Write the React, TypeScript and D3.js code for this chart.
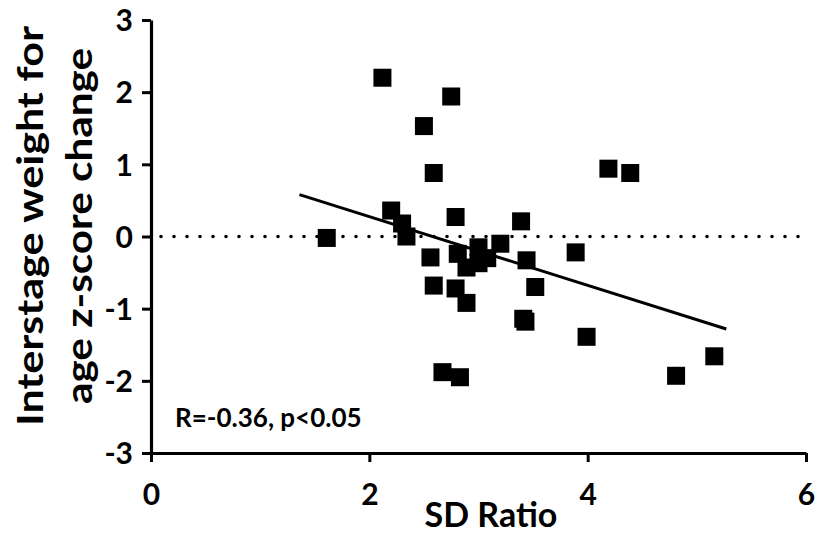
import React, { useEffect, useRef } from 'react';
import * as d3 from 'd3';

// SD ratio (x) vs interstage weight-for-age z-score change (y)
const sdRatio = [
  1.61, 2.12, 2.20, 2.30, 2.34, 2.50, 2.59, 2.56, 2.59, 2.67, 2.75,
  2.79, 2.79, 2.81, 2.83, 2.89, 2.89, 3.00, 3.00, 3.08, 3.20, 3.39,
  3.44, 3.52, 3.41, 3.43, 3.89, 3.99, 4.19, 4.39, 4.81, 5.16
];
const zChange = [
  -0.02, 2.20, 0.36, 0.18, 0.00, 1.53, 0.88, -0.29, -0.68, -1.88, 1.94,
  0.27, -0.72, -0.24, -1.95, -0.43, -0.92, -0.15, -0.37, -0.30, -0.10, 0.21,
  -0.33, -0.70, -1.14, -1.18, -0.22, -1.39, 0.94, 0.88, -1.93, -1.66
];

// linear fit drawn between these x values
const fitRange = [1.36, 5.27];
const fitSlope = -0.476;
const fitIntercept = 1.227;

const xTicks = [0, 2, 4, 6];
const yTicks = [-3, -2, -1, 0, 1, 2, 3];
const yTitle = ['Interstage weight for', 'age z-score change'];
const statsLabel = 'R=-0.36, p<0.05';

const FONT = 'Lato, "Open Sans", sans-serif';

const App = () => {
  const svgRef = useRef<SVGSVGElement>(null);

  useEffect(() => {
    const svg = d3.select(svgRef.current);
    svg.selectAll('*').remove();

    const x = d3.scaleLinear().domain([0, 6]).range([151, 806]);
    const y = d3.scaleLinear().domain([-3, 3]).range([453, 20]);

    // dotted zero line
    svg.append('line')
      .attr('x1', x(0) + 10)
      .attr('x2', x(6) - 1)
      .attr('y1', y(0))
      .attr('y2', y(0))
      .attr('stroke', '#000')
      .attr('stroke-width', 3.6)
      .attr('stroke-linecap', 'round')
      .attr('stroke-dasharray', '0 13');

    // regression line
    svg.append('line')
      .attr('x1', x(fitRange[0]))
      .attr('y1', y(fitIntercept + fitSlope * fitRange[0]))
      .attr('x2', x(fitRange[1]))
      .attr('y2', y(fitIntercept + fitSlope * fitRange[1]))
      .attr('stroke', '#000')
      .attr('stroke-width', 3);

    // points
    const size = 18;
    svg.append('g')
      .selectAll('rect')
      .data(sdRatio.map((v, i) => ({ x: v, y: zChange[i] })))
      .enter()
      .append('rect')
      .attr('x', d => x(d.x) - size / 2)
      .attr('y', d => y(d.y) - size / 2)
      .attr('width', size)
      .attr('height', size)
      .attr('fill', '#000');

    // axes (hyphen minus like the original, no decimals)
    const fmt = (d: any) => String(d);
    const xAxis = svg.append('g')
      .attr('transform', `translate(0,${y(-3)})`)
      .call(d3.axisBottom(x).tickValues(xTicks).tickFormat(fmt).tickSize(9).tickSizeOuter(0).tickPadding(22));
    const yAxis = svg.append('g')
      .attr('transform', `translate(${x(0)},0)`)
      .call(d3.axisLeft(y).tickValues(yTicks).tickFormat(fmt).tickSize(9).tickSizeOuter(0).tickPadding(9));

    [xAxis, yAxis].forEach(g => {
      g.select('.domain').attr('stroke', '#000').attr('stroke-width', 3.2);
      g.selectAll('.tick line').attr('stroke', '#000').attr('stroke-width', 3);
      g.selectAll('.tick text')
        .attr('fill', '#000')
        .style('font-family', FONT)
        .style('font-weight', 'bold')
        .style('font-size', '30px');
    });
    yAxis.selectAll('.tick text').attr('dy', '0.36em');

    // axis titles
    svg.append('text')
      .attr('x', 491)
      .attr('y', 527)
      .attr('text-anchor', 'middle')
      .style('font-family', FONT)
      .style('font-weight', 'bold')
      .style('font-size', '34px')
      .text('SD Ratio');

    const ttl = svg.append('text')
      .attr('transform', `translate(0,226) rotate(-90)`)
      .attr('text-anchor', 'middle')
      .style('font-family', FONT)
      .style('font-weight', 'bold')
      .style('font-size', '36px');
    ttl.append('tspan').attr('x', 0).attr('y', 43)
      .attr('textLength', 400).attr('lengthAdjust', 'spacingAndGlyphs')
      .text(yTitle[0]);
    ttl.append('tspan').attr('x', 0).attr('y', 92)
      .attr('textLength', 356).attr('lengthAdjust', 'spacingAndGlyphs')
      .text(yTitle[1]);

    // stats annotation
    svg.append('text')
      .attr('x', 175)
      .attr('y', 427)
      .style('font-family', FONT)
      .style('font-weight', 'bold')
      .style('font-size', '26px')
      .text(statsLabel);
  }, []);

  return (
    <svg
      ref={svgRef}
      width={819}
      height={543}
      style={{ position: 'absolute', left: 0, top: 0, background: '#fff' }}
    />
  );
};

export default App;
